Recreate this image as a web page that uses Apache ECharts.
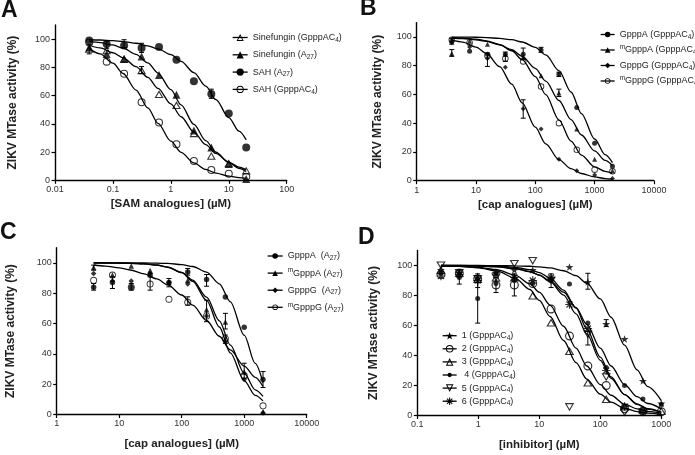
<!DOCTYPE html>
<html><head><meta charset="utf-8">
<script src="https://cdn.jsdelivr.net/npm/echarts@6/dist/echarts.min.js"></script>
<style>html,body{margin:0;padding:0;background:#fff}#c{width:695px;height:455px}</style>
</head><body><div id="c"></div>
<script>
// ===== Panel A : SAM analogues =====
const concA = [0.039, 0.078, 0.156, 0.3125, 0.625, 1.25, 2.5, 5, 10, 20];
const ptsSinGppp = [93, 92, 86, 77.8, 61, 53.2, 33.3, 17.3, 12, 6.9];
const ptsSinA27  = [94, 89.4, 85.8, 87.7, 74.5, 60.5, 35.2, 23.2, 11.6, 1];
const ptsSahA27  = [99, 96.5, 95.5, 93.6, 94.3, 85.3, 70.2, 61, 47.3, 23.2];
const ptsSahGppp = [97.6, 84, 75.4, 55.3, 40.9, 25.5, 13.7, 7.3, 4.7, 2.6];
const curveXA    = [0.039, 0.06, 0.1, 0.15, 0.25, 0.4, 0.6, 1, 1.5, 2.5, 4, 6, 10, 15, 20];
const fitSinGppp = [95.6, 93.7, 90.3, 86.7, 80.4, 72.9, 65.1, 54.1, 45, 34.1, 25.3, 19, 12.9, 9.3, 7.4];
const fitSinA27  = [98.3, 97.5, 95.8, 93.5, 89.2, 83.1, 75.9, 64.2, 53.4, 39.6, 28.1, 20, 12.5, 8.4, 6.2];
const fitSahA27  = [99.5, 99.3, 98.8, 98.2, 97, 95.2, 93, 88.9, 84.2, 76.2, 66.7, 57.1, 44.4, 34.8, 28.6];
const fitSahGppp = [93.2, 89.5, 82.9, 75.6, 63.9, 51.3, 40.3, 27.8, 19.8, 12.3, 7.7, 5.1, 3.0, 1.9, 1.4];
const errA = [[0.039, 89.5, 96], [0.078, 93.5, 98.5], [0.156, 94, 99.5], [0.3125, 90.5, 97], [0.3125, 75.5, 80.5], [5, 58, 64.5]];
const xTicksA = ['0.01', '0.1', '1', '10', '100'];

// ===== Panel B : cap analogues (GpppAC4) =====
const concB = [3.9, 7.8, 15.6, 31.25, 62.5, 125, 250, 500, 1000, 2000];
const ptsGpppA_B  = [97, 90, 88, 88, 88, 91, 74, 51, 26, 10];
const ptsmGpppA_B = [88.5, 97, 95, 88, 86, 73, 61, 36, 15, 7];
const ptsGpppG_B  = [96, 93, 85, 79, 50, 36, 15, 7, 4, 1.5];
const ptsmGpppG_B = [98, 96, 87, 85, 83, 65.5, 40, 21.5, 7.7, 6.5];
const curveXB     = [3.9, 6, 10, 15, 25, 40, 60, 100, 150, 250, 400, 600, 1000, 1500, 2000];
const fitGpppA_B  = [99.9, 99.9, 99.8, 99.6, 99.0, 98.1, 96.5, 92.8, 87.5, 76.6, 61.7, 46.7, 29, 18.2, 12.6];
const fitmGpppA_B = [99.3, 98.9, 98.0, 96.9, 94.6, 91.1, 86.5, 78.2, 69.3, 55.8, 42.5, 31.8, 20.7, 14.1, 10.6];
const fitGpppG_B  = [97.9, 96.4, 93.0, 88.5, 79.4, 67.2, 54.2, 37.3, 25.6, 14.7, 8.4, 5.0, 2.6, 1.5, 1.0];
const fitmGpppG_B = [99.6, 99.2, 98.5, 97.3, 94.7, 90.4, 84.2, 72.4, 59.9, 42.3, 27.6, 17.8, 9.6, 6.5, 5.0];
const errB = [[3.9, 86.5, 91.2], [3.9, 95, 99], [15.6, 79.5, 88.8], [31.25, 83, 89.5], [62.5, 43.5, 56.3], [62.5, 84.2, 92.3], [125, 89.3, 92.8], [250, 58.6, 63.7], [250, 72.5, 75.5]];
const xTicksB = ['1', '10', '100', '1000', '10000'];

// ===== Panel C : cap analogues (A27) =====
const concC = [3.9, 7.8, 15.6, 31.25, 62.5, 125, 250, 500, 1000, 2000];
const ptsGpppA_C  = [84, 87, 84, 92, 87, 94, 89, 77.5, 57.5, 23];
const ptsmGpppA_C = [97, 92, 98, 95, 87, 88.6, 69, 61, 28, 2];
const ptsGpppG_C  = [93, 88, 88, 93, 87, 86, 65, 48, 23, 1];
const ptsmGpppG_C = [88.5, 92, 84, 86, 76, 74, 65, 50, 25.7, 5.7];
const curveXC     = [3.9, 6, 10, 15, 25, 40, 60, 100, 150, 250, 400, 600, 1000, 1500, 2000];
const fitGpppA_C  = [100, 100, 100, 99.9, 99.9, 99.8, 99.6, 98.9, 97.6, 93.9, 86.2, 74.3, 52.3, 33.7, 21];
const fitmGpppA_C = [100, 99.9, 99.8, 99.7, 99.3, 98.5, 97.1, 93.7, 88.6, 77.4, 61.8, 45.8, 27.2, 16.3, 12];
const fitGpppG_C  = [100, 100, 99.9, 99.7, 99.3, 98.6, 97.2, 93.5, 87.8, 75.2, 57.7, 40.6, 22.3, 12.6, 9];
const fitmGpppG_C = [98.6, 97.9, 96.7, 95.3, 92.8, 89.4, 85.5, 78.8, 72.1, 62, 51.6, 42.6, 31.9, 24.5, 18.5];
const errC = [[3.9, 82, 86.4], [3.9, 95.2, 98.5], [7.8, 83.1, 90.8], [15.6, 82, 86.4], [31.25, 82, 90.8], [62.5, 84.2, 89.7], [125, 91.9, 96.3], [125, 72.1, 77.6], [250, 84.6, 92.3], [250, 61.2, 75.4], [500, 56.4, 66.7], [500, 46.9, 52.4], [1000, 23.9, 33.8], [2000, 17.8, 28.3]];
const xTicksC = ['1', '10', '100', '1000', '10000'];

// ===== Panel D : inhibitors =====
const concD = [0.244, 0.488, 0.977, 1.95, 3.9, 7.8, 15.6, 31.25, 62.5, 125, 250, 500, 1000];
const pts1 = [97, 95, 93, 95, 97, 97, 91, 99, 89, 61, 51, 23, 8];
const pts2 = [94, 95, 91, 87, 87, 88, 71, 53, 33, 20, 4.5, 2.9, 2.5];
const pts3 = [97, 95, 91, 92, 92, 80, 62, 43, 22, 11, 6, 4, 3];
const pts4 = [95, 92, 78, 88, 90, 88, 90, 87.6, 61.6, 32, 20, 11, 7.4];
const pts5 = [100, 95, 91, 92, 101, 103, 90, 5.6, 54, 25.5, 2, 2, null];
const pts6 = [93, 94, 90, 95, 92, 90, 92, 74, 58, 30, 6, 3, null];
const curveXD = [0.244, 0.5, 1, 2, 4, 7, 10, 15, 25, 40, 60, 100, 150, 250, 400, 600, 1000];
const fit1 = [100, 100, 100, 99.9, 99.8, 99.5, 99.1, 98.4, 96.5, 93.2, 88.2, 77.7, 65.5, 46.9, 30.4, 19.2, 9.9];
const fit2 = [99.8, 99.5, 98.8, 97.2, 93.6, 87.8, 82.2, 73.6, 59.5, 44.9, 33, 20.6, 13.5, 7.6, 4.4, 2.7, 1.4];
const fit3 = [99.8, 99.4, 98.5, 96.4, 91.6, 84, 76.7, 66, 50, 35.2, 24.3, 14.2, 8.9, 4.8, 2.6, 1.6, 0.8];
const fit4 = [99.9, 99.8, 99.6, 99.1, 97.9, 95.8, 93.6, 89.7, 82.2, 71.9, 60.7, 44.9, 33, 20.6, 12.6, 8, 4.4];
const fit5 = [100, 100, 99.8, 99.6, 98.8, 97.2, 95.3, 91.6, 83.6, 71.6, 57.8, 38.9, 25.7, 13.9, 7.4, 4.2, 2.0];
const fit6 = [100, 99.9, 99.7, 99.3, 98.1, 96, 93.6, 89.2, 80.2, 67.8, 54.4, 36.8, 24.8, 13.9, 7.7, 4.5, 2.3];
const errD = [[0.488, 87.6, 96.6], [0.977, 61.6, 94.4], [0.977, 85.3, 91], [1.95, 82, 92], [3.9, 79.7, 94.4], [15.6, 85.3, 94.4], [62.5, 84.2, 94.8], [62.5, 47, 56], [125, 59.4, 63.9]];
const xTicksD = ['0.1', '1', '10', '100', '1000'];

const yTicks = [0, 20, 40, 60, 80, 100];

// ===== symbols =====
const SYM = {
  ring: 'path://M0,50A50,50 0 1,1 100,50A50,50 0 1,1 0,50ZM13,50A37,37 0 1,0 87,50A37,37 0 1,0 13,50Z',
  triO: 'path://M50,0L100,86.6L0,86.6ZM50,24L20.8,74.6L79.2,74.6Z',
  triDownO: 'path://M0,0L100,0L50,86.6ZM20.8,12L50,62.6L79.2,12Z',
  star: 'path://M50,0L61.76,33.82L97.55,34.55L69.02,56.18L79.39,90.45L50,70L20.61,90.45L30.98,56.18L2.45,34.55L38.24,33.82Z',
  aster: 'path://M0,43L100,43L100,57L0,57ZM57,0L57,100L43,100L43,0ZM19.55,9.65L90.35,80.45L80.45,90.35L9.65,19.55ZM90.35,19.55L19.55,90.35L9.65,80.45L80.45,9.65Z',
  dot: 'path://M0,0L0.01,0L0.01,0.01ZM100,100L99.99,100L99.99,99.99ZM22,50A28,28 0 1,1 78,50A28,28 0 1,1 22,50Z'
};

const panels = [
  { conc: concA, cx: curveXA, err: errA, items: [
    { name: 'Sinefungin (GpppAC4)', sym: SYM.triO, size: 9, pts: ptsSinGppp, fit: fitSinGppp },
    { name: 'Sinefungin (A27)', sym: 'triangle', size: 8, pts: ptsSinA27, fit: fitSinA27 },
    { name: 'SAH (A27)', sym: 'circle', size: 8, pts: ptsSahA27, fit: fitSahA27 },
    { name: 'SAH (GpppAC4)', sym: SYM.ring, size: 8, pts: ptsSahGppp, fit: fitSahGppp } ] },
  { conc: concB, cx: curveXB, err: errB, items: [
    { name: 'GpppA (GpppAC4)', sym: 'circle', size: 5, pts: ptsGpppA_B, fit: fitGpppA_B },
    { name: 'mGpppA (GpppAC4)', sym: 'triangle', size: 5, pts: ptsmGpppA_B, fit: fitmGpppA_B },
    { name: 'GpppG (GpppAC4)', sym: 'diamond', size: 5, pts: ptsGpppG_B, fit: fitGpppG_B },
    { name: 'mGpppG (GpppAC4)', sym: SYM.ring, size: 6.5, pts: ptsmGpppG_B, fit: fitmGpppG_B } ] },
  { conc: concC, cx: curveXC, err: errC, items: [
    { name: 'GpppA  (A27)', sym: 'circle', size: 5.5, pts: ptsGpppA_C, fit: fitGpppA_C },
    { name: 'mGpppA (A27)', sym: 'triangle', size: 5.5, pts: ptsmGpppA_C, fit: fitmGpppA_C },
    { name: 'GpppG  (A27)', sym: 'diamond', size: 5.5, pts: ptsGpppG_C, fit: fitGpppG_C },
    { name: 'mGpppG (A27)', sym: SYM.ring, size: 7, pts: ptsmGpppG_C, fit: fitmGpppG_C } ] },
  { conc: concD, cx: curveXD, err: errD, items: [
    { name: '1 (GpppAC4)', sym: SYM.star, size: 8, pts: pts1, fit: fit1 },
    { name: '2 (GpppAC4)', sym: SYM.ring, size: 9, pts: pts2, fit: fit2 },
    { name: '3 (GpppAC4)', sym: SYM.triO, size: 9.5, pts: pts3, fit: fit3 },
    { name: ' 4 (GpppAC4)', sym: SYM.dot, size: 9, pts: pts4, fit: fit4 },
    { name: '5 (GpppAC4)', sym: SYM.triDownO, size: 9.5, pts: pts5, fit: fit5 },
    { name: '6 (GpppAC4)', sym: SYM.aster, size: 8.5, pts: pts6, fit: fit6 } ] }
];

function errRender(params, api) {
  const x = api.value(0), lo = api.value(1), hi = api.value(2);
  const a = api.coord([x, hi]), b = api.coord([x, lo]);
  const w = 2.5, st = { stroke: '#000', lineWidth: 1 };
  return { type: 'group', children: [
    { type: 'line', shape: { x1: a[0], y1: a[1], x2: b[0], y2: b[1] }, style: st },
    { type: 'line', shape: { x1: a[0] - w, y1: a[1], x2: a[0] + w, y2: a[1] }, style: st },
    { type: 'line', shape: { x1: b[0] - w, y1: b[1], x2: b[0] + w, y2: b[1] }, style: st }
  ] };
}

const series = [];
panels.forEach((p, gi) => {
  p.items.forEach(it => {
    series.push({ type: 'line', name: it.name, xAxisIndex: gi, yAxisIndex: gi,
      data: p.cx.map((x, k) => [x, it.fit[k]]), smooth: 0.3, smoothMonotone: 'x',
      showSymbol: false, symbol: it.sym, symbolSize: it.size, symbolKeepAspect: true,
      lineStyle: { color: '#000', width: 1.3 }, itemStyle: { color: '#000' }, silent: true, z: 2 });
    series.push({ type: 'scatter', name: it.name + '_pts', xAxisIndex: gi, yAxisIndex: gi,
      data: p.conc.map((x, k) => [x, it.pts[k]]).filter(d => d[1] != null),
      symbol: it.sym, symbolSize: it.size, symbolKeepAspect: true,
      itemStyle: { color: '#000' }, silent: true, z: 4 });
  });
  series.push({ type: 'custom', name: 'err' + gi, xAxisIndex: gi, yAxisIndex: gi,
    data: p.err, encode: { x: 0, y: [1, 2] }, renderItem: errRender, silent: true, z: 3 });
});

const TXT = '#222';
const xTickSets = [xTicksA, xTicksB, xTicksC, xTicksD];
function xAxisCfg(gi, min, max, name, gap) {
  const labels = xTickSets[gi];
  return { type: 'log', logBase: 10, gridIndex: gi, min: min, max: max,
    name: name, nameLocation: 'middle', nameGap: gap,
    nameTextStyle: { fontSize: 11.5, fontWeight: 'bold', color: TXT },
    axisLine: { onZero: false, lineStyle: { color: '#000', width: 1.4 } },
    axisTick: { length: 3.5, lineStyle: { color: '#000', width: 1.2 } },
    minorTick: { show: false }, splitLine: { show: false },
    axisLabel: { fontSize: 9, color: '#333', margin: 5,
      formatter: v => labels.find(t => Math.abs(Math.log10(+t) - Math.log10(v)) < 1e-6) || '' } };
}
function yAxisCfg(gi, gap) {
  return { type: 'value', gridIndex: gi, min: 0, max: 110,
    name: 'ZIKV MTase activity (%)', nameLocation: 'middle', nameGap: gap,
    nameTextStyle: { fontSize: 12, fontWeight: 'bold', color: TXT },
    axisLine: { show: true, onZero: false, lineStyle: { color: '#000', width: 1.4 } },
    axisTick: { show: true, length: 3.5, customValues: yTicks, lineStyle: { color: '#000', width: 1.2 } },
    splitLine: { show: false },
    axisLabel: { fontSize: 9, color: '#333', margin: 5, customValues: yTicks } };
}

const RICH = {
  s: { fontSize: 6.5, lineHeight: 7, verticalAlign: 'bottom', color: TXT },
  p: { fontSize: 6.5, lineHeight: 7, verticalAlign: 'top', color: TXT }
};
function fmt(n) {
  return n.replace('GpppAC4', 'GpppAC{s|4}').replace('A27', 'A{s|27}').replace(/^m/, '{p|m}');
}
function legendCfg(gi, left, top, gap, ih, iw) {
  return { orient: 'vertical', left: left, top: top, padding: 0, itemGap: gap,
    itemWidth: iw, itemHeight: ih, selectedMode: false,
    data: panels[gi].items.map(i => i.name), formatter: fmt,
    lineStyle: { width: 1.3 }, itemStyle: { borderWidth: 0 },
    textStyle: { fontSize: 9, color: TXT, lineHeight: 12, rich: RICH } };
}

const chart = echarts.init(document.getElementById('c'), null, { renderer: 'canvas' });
chart.setOption({
  animation: false,
  backgroundColor: '#fff',
  textStyle: { fontFamily: '"Liberation Sans", Arial, sans-serif' },
  grid: [
    { left: 55, top: 24.9, width: 231.7, height: 155.4, outerBoundsMode: 'none' },
    { left: 416.7, top: 22.6, width: 237.2, height: 158.1, outerBoundsMode: 'none' },
    { left: 56.7, top: 247.7, width: 250, height: 166.8, outerBoundsMode: 'none' },
    { left: 417.3, top: 250.5, width: 244, height: 165, outerBoundsMode: 'none' }
  ],
  xAxis: [
    xAxisCfg(0, 0.01, 100, '[SAM analogues] (µM)', 17.5),
    xAxisCfg(1, 1, 10000, '[cap analogues] (µM)', 18.3),
    xAxisCfg(2, 1, 10000, '[cap analogues] (µM)', 23.5),
    xAxisCfg(3, 0.1, 1000, '[inhibitor] (µM)', 23)
  ],
  yAxis: [yAxisCfg(0, 36.5), yAxisCfg(1, 33), yAxisCfg(2, 40), yAxisCfg(3, 37.5)],
  legend: [
    legendCfg(0, 232, 31.5, 5.3, 9, 15),
    legendCfg(1, 600, 28.5, 3.5, 7, 14),
    legendCfg(2, 267, 250, 5.1, 7, 15),
    legendCfg(3, 442, 329.7, 1.1, 9.5, 14)
  ],
  graphic: [
    { type: 'text', left: 1, top: -1, style: { text: 'A', font: 'bold 23px "Liberation Sans", Arial, sans-serif', fill: '#111' } },
    { type: 'text', left: 360, top: -3, style: { text: 'B', font: 'bold 23px "Liberation Sans", Arial, sans-serif', fill: '#111' } },
    { type: 'text', left: 0, top: 221, style: { text: 'C', font: 'bold 23px "Liberation Sans", Arial, sans-serif', fill: '#111' } },
    { type: 'text', left: 358, top: 226, style: { text: 'D', font: 'bold 23px "Liberation Sans", Arial, sans-serif', fill: '#111' } }
  ],
  series: series
});
</script>
</body></html>
